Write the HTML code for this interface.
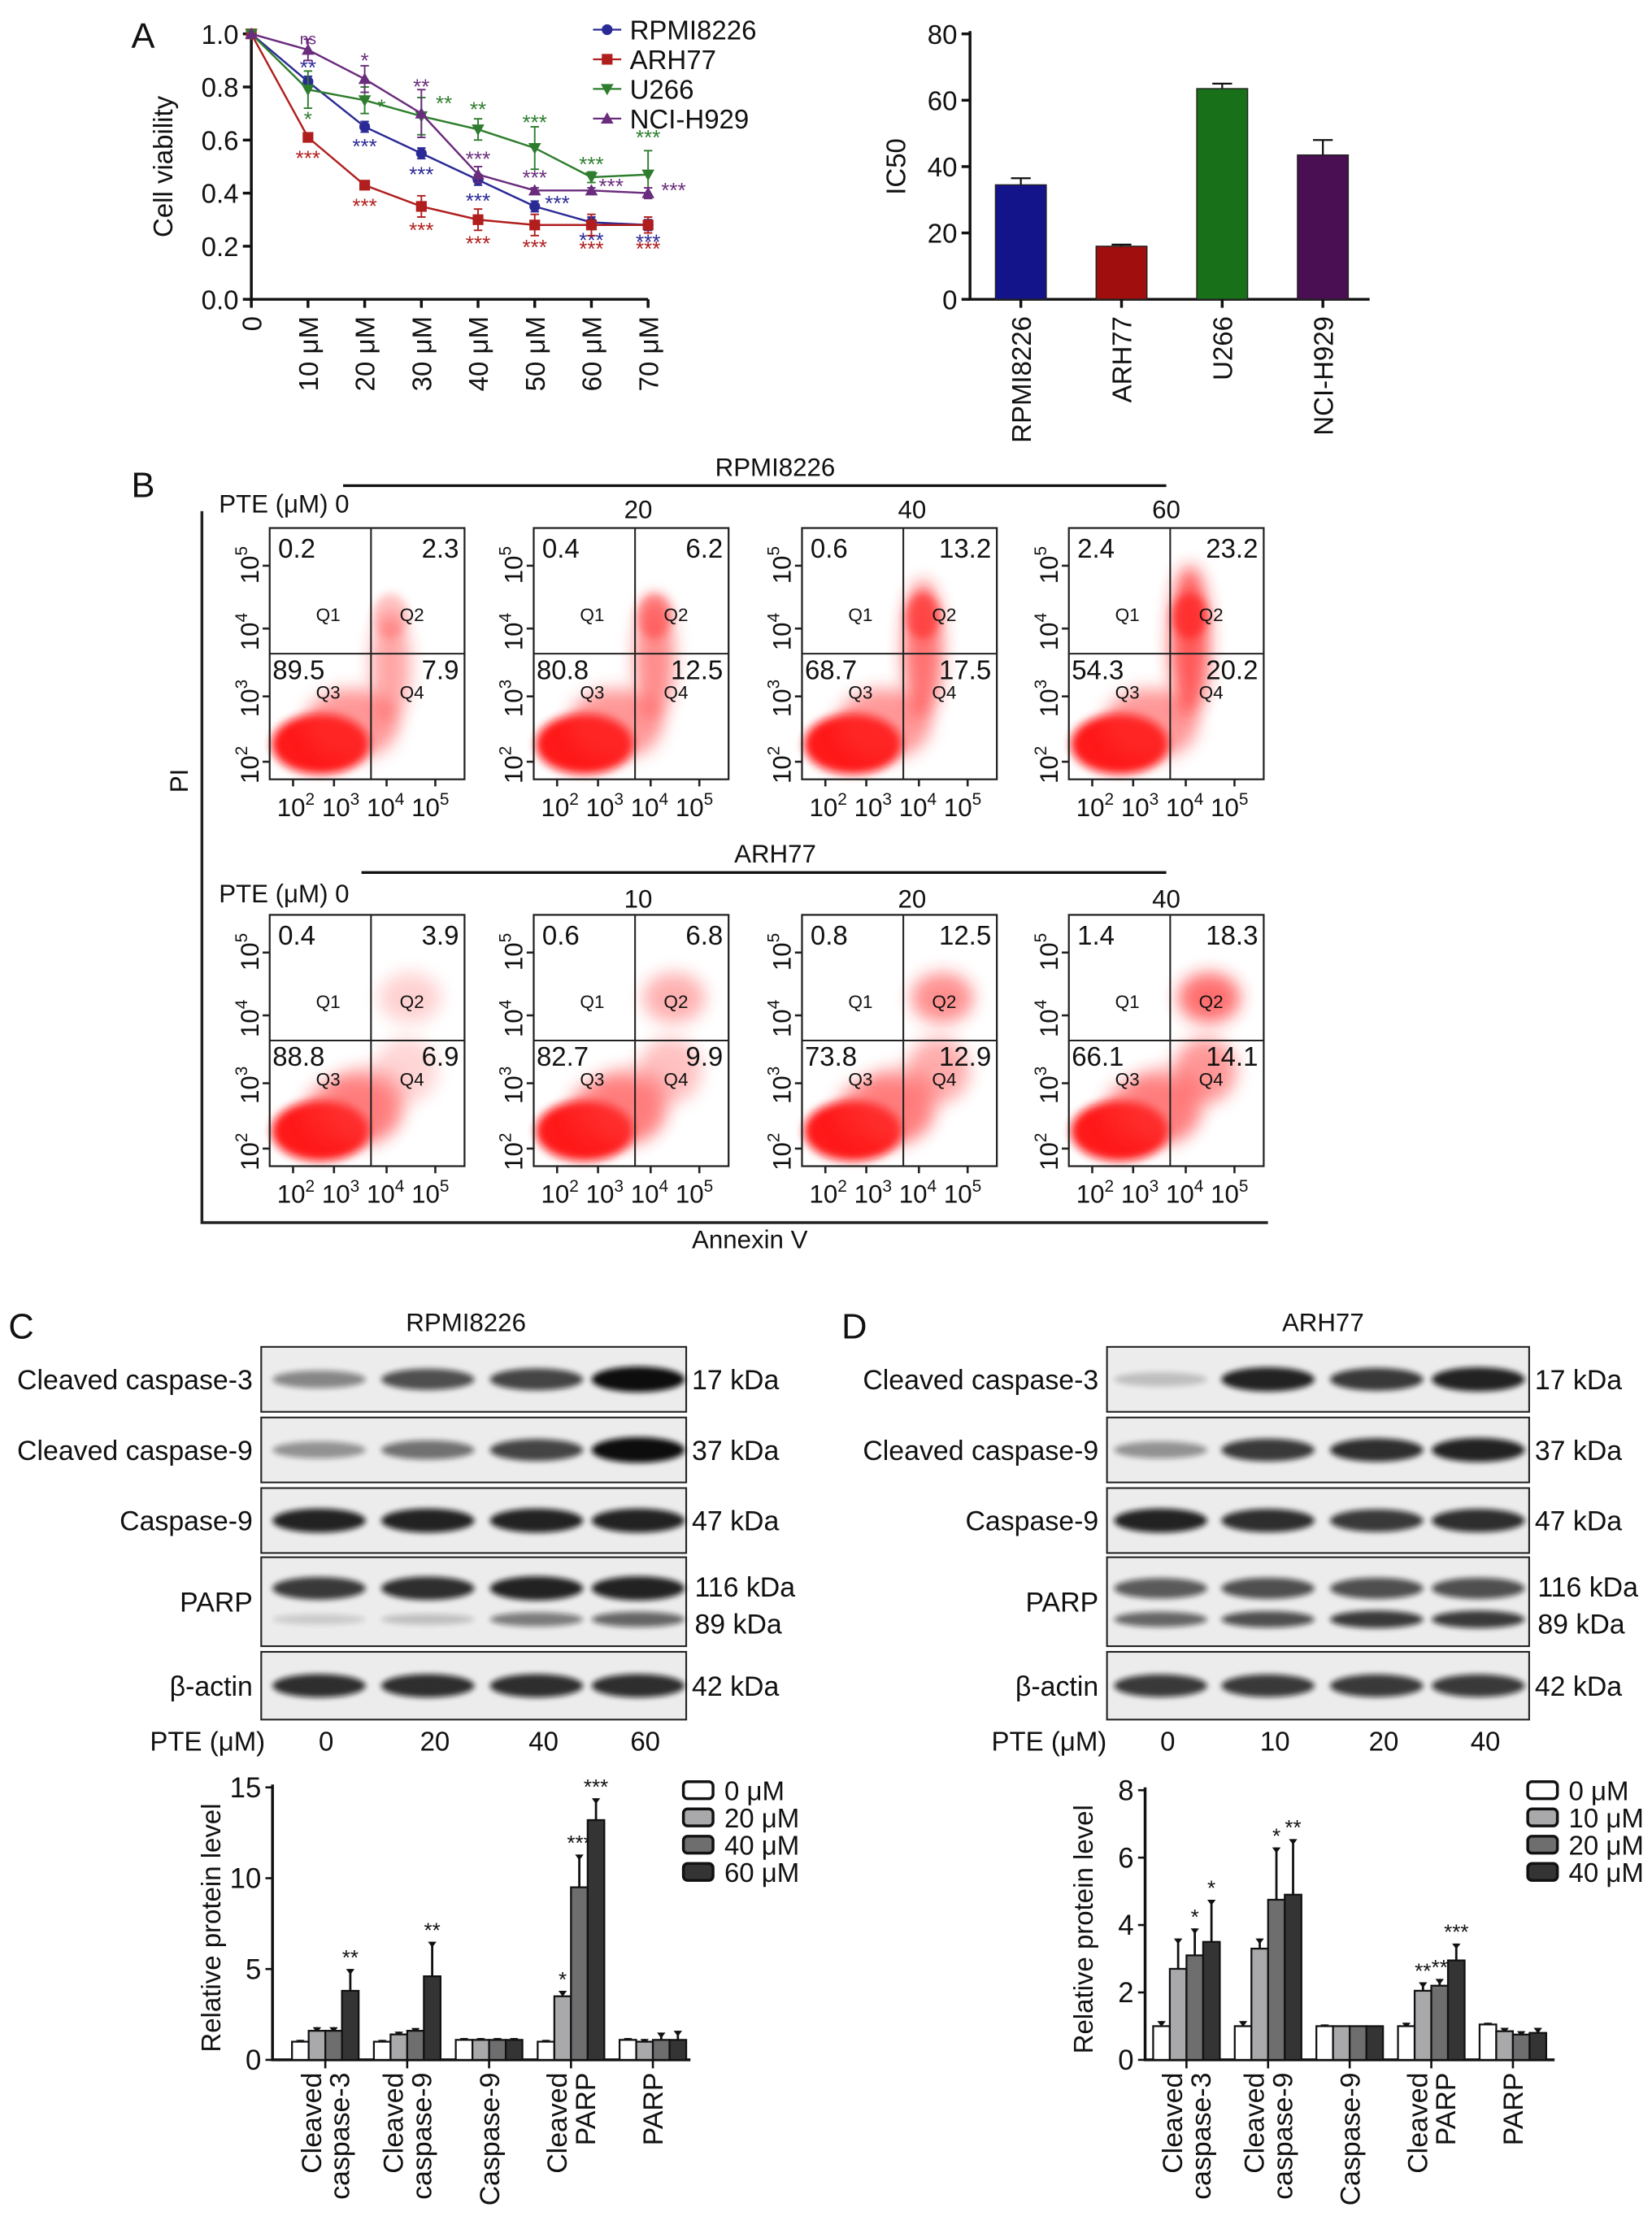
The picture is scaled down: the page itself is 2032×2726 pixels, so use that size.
<!DOCTYPE html>
<html><head><meta charset="utf-8">
<style>
html,body{margin:0;padding:0;background:#fff;}
svg{display:block;font-family:"Liberation Sans",sans-serif;}
</style></head>
<body>
<svg id="fig" width="2032" height="2726" viewBox="0 0 1170 1569.6" xmlns="http://www.w3.org/2000/svg">
<defs>
<filter id="blur3" x="-50%" y="-50%" width="200%" height="200%"><feGaussianBlur stdDeviation="3"/></filter>
<filter id="blur2" x="-50%" y="-50%" width="200%" height="200%"><feGaussianBlur stdDeviation="2"/></filter>
<filter id="blur6" x="-50%" y="-50%" width="200%" height="200%"><feGaussianBlur stdDeviation="6"/></filter>
</defs>
</svg>
<script>
// ===== Panel A line chart data =====
const doseLabels = ['0','10 μM','20 μM','30 μM','40 μM','50 μM','60 μM','70 μM'];
const seriesNames = ['RPMI8226','ARH77','U266','NCI-H929'];
const rpmiVals = [1.0,0.82,0.65,0.55,0.45,0.35,0.29,0.28];
const arhVals  = [1.0,0.61,0.43,0.35,0.30,0.28,0.28,0.28];
const u266Vals = [1.0,0.79,0.75,0.69,0.64,0.57,0.46,0.47];
const nciVals  = [1.0,0.94,0.83,0.70,0.47,0.41,0.41,0.40];
const rpmiErr = [0,0.02,0.02,0.02,0.02,0.02,0.02,0.02];
const arhErr  = [0,0.01,0.01,0.04,0.04,0.04,0.04,0.03];
const u266Err = [0,0.07,0.05,0.07,0.04,0.08,0.02,0.09];
const nciErr  = [0,0.04,0.05,0.09,0.03,0.01,0.01,0.02];
const rpmiStars = ['','**','***','***','***','***','***','***'];
const arhStars  = ['','***','***','***','***','***','***','***'];
const u266Stars = ['','*','*','**','**','***','***','***'];
const nciStars  = ['','ns','*','**','***','***','***','***'];
const yTicksA = [0.0,0.2,0.4,0.6,0.8,1.0];
// ===== IC50 =====
const icCats = ['RPMI8226','ARH77','U266','NCI-H929'];
const icVals = [34.5,16,63.5,43.5];
const icErr  = [2,0.5,1.5,4.5];
const icTicks = [0,20,40,60,80];
// ===== Flow cytometry quadrant percentages [Q1,Q2,Q3,Q4] =====
const rpmiDoses = ['0','20','40','60'];
const arhDoses = ['0','10','20','40'];
const rpmiQuad = [[0.2,2.3,89.5,7.9],[0.4,6.2,80.8,12.5],[0.6,13.2,68.7,17.5],[2.4,23.2,54.3,20.2]];
const arhQuad  = [[0.4,3.9,88.8,6.9],[0.6,6.8,82.7,9.9],[0.8,12.5,73.8,12.9],[1.4,18.3,66.1,14.1]];
// ===== Bar charts C / D =====
const protCats = [['Cleaved','caspase-3'],['Cleaved','caspase-9'],['Caspase-9'],['Cleaved','PARP'],['PARP']];
const cLegend = ['0 μM','20 μM','40 μM','60 μM'];
const dLegend = ['0 μM','10 μM','20 μM','40 μM'];
const cVals = [[1.0,1.6,1.6,3.8],[1.0,1.4,1.6,4.6],[1.1,1.1,1.1,1.1],[1.0,3.5,9.5,13.2],[1.1,1.0,1.1,1.1]];
const cErr  = [[0.1,0.2,0.2,1.2],[0.1,0.15,0.15,1.9],[0.1,0.1,0.1,0.1],[0.1,0.3,1.8,1.2],[0.1,0.15,0.4,0.5]];
const cStars= [['','','','**'],['','','','**'],['','','',''],['','*','***','***'],['','','','']];
const cTicks = [0,5,10,15];
const dVals = [[1.0,2.7,3.1,3.5],[1.0,3.3,4.75,4.9],[1.0,1.0,1.0,1.0],[1.0,2.05,2.2,2.95],[1.05,0.85,0.75,0.8]];
const dErr  = [[0.15,0.9,0.8,1.25],[0.15,0.3,1.55,1.65],[0.05,0.02,0.02,0.02],[0.1,0.25,0.2,0.5],[0.05,0.1,0.1,0.15]];
const dStars= [['','','*','*'],['','','*','**'],['','','',''],['','**','**','***'],['','','','']];
const dTicks = [0,2,4,6,8];
// ===== Western blot band intensities =====
const blotRows = ['Cleaved caspase-3','Cleaved caspase-9','Caspase-9','PARP','β-actin'];
const blotKda = ['17 kDa','37 kDa','47 kDa','116 kDa','42 kDa'];
const cBands = [[0.45,0.7,0.75,1],[0.4,0.55,0.75,1],[0.9,0.9,0.9,0.9],[0.8,0.85,0.9,0.9],[0.85,0.85,0.85,0.85]];
const cParp89 = [0.15,0.2,0.5,0.6];
const dBands = [[0.2,0.9,0.8,0.9],[0.4,0.8,0.85,0.9],[0.9,0.85,0.8,0.85],[0.65,0.7,0.7,0.7],[0.8,0.8,0.8,0.8]];
const dParp89 = [0.6,0.7,0.8,0.8];

const NS='http://www.w3.org/2000/svg';
const svg=document.getElementById('fig');
function mk(tag,attrs,parent){const e=document.createElementNS(NS,tag);for(const k in attrs)e.setAttribute(k,attrs[k]);(parent||svg).appendChild(e);return e;}
function txt(x,y,s,attrs,parent){const a=Object.assign({x:x,y:y,'font-size':18,fill:'#111'},attrs||{});const e=mk('text',a,parent);e.textContent=s;return e;}
function grp(parent){return mk('g',{},parent);}

// ---------- Panel A ----------
let el;
el=txt(93,34,'A',{'font-size':25});


const gA=grp();


const ax0=178, ax1=459, ay0=212, ay1=24;
const xA=i=>ax0+i*(ax1-ax0)/7;
const yA=v=>ay0-v*(ay0-ay1);
el=mk('path',{d:`M${ax0},${ay1-2} V${ay0} H${ax1}`,stroke:'#111','stroke-width':2,fill:'none'},gA);


yTicksA.forEach(t=>{
  mk('line',{x1:ax0-6,x2:ax0,y1:yA(t),y2:yA(t),stroke:'#111','stroke-width':2},gA);
  el=txt(ax0-9,yA(t)+7,t.toFixed(1),{'text-anchor':'end','font-size':19},gA);
  
  
});
doseLabels.forEach((d,i)=>{
  mk('line',{x1:xA(i),x2:xA(i),y1:ay0,y2:ay0+6,stroke:'#111','stroke-width':2},gA);
  el=txt(0,0,d,{'text-anchor':'end','font-size':19,transform:`translate(${xA(i)+7},${ay0+12}) rotate(-90)`},gA);
  
  
});
el=txt(0,0,'Cell viability',{'text-anchor':'middle','font-size':19,transform:'translate(122,118) rotate(-90)'},gA);


const colA=['#2a2a96','#b01e1e','#2e7d2e','#6a2c7c'];
const valsA=[rpmiVals,arhVals,u266Vals,nciVals];
const errsA=[rpmiErr,arhErr,u266Err,nciErr];
const starsA=[rpmiStars,arhStars,u266Stars,nciStars];
const starOff=[
 [[0,0],[0,-10],[0,14],[0,15],[0,15],[16,-2],[0,13],[0,12]],
 [[0,0],[0,15],[0,15],[0,17],[0,17],[0,16],[0,17],[0,17]],
 [[0,0],[0,21],[12,5],[16,-9],[0,-14],[0,-18],[0,-9],[0,-26]],
 [[0,0],[0,-9],[0,-13],[0,-19],[0,-11],[0,-9],[14,-3],[18,-2]]
];
function marker(type,x,y,c,parent){
  if(type===0) return mk('circle',{cx:x,cy:y,r:3.8,fill:c},parent);
  if(type===1) return mk('rect',{x:x-3.8,y:y-3.8,width:7.6,height:7.6,fill:c},parent);
  if(type===2) return mk('path',{d:`M${x-4.5},${y-3.5} L${x+4.5},${y-3.5} L${x},${y+4.5} Z`,fill:c},parent);
  return mk('path',{d:`M${x-4.5},${y+3.5} L${x+4.5},${y+3.5} L${x},${y-4.5} Z`,fill:c},parent);
}
valsA.forEach((vals,s)=>{
  const g=grp(gA);
  
  
  el=mk('polyline',{points:vals.map((v,i)=>xA(i)+','+yA(v)).join(' '),fill:'none',stroke:colA[s],'stroke-width':1.4},g);
  
  
  vals.forEach((v,i)=>{
    const e=errsA[s][i];
    if(e>0){
      mk('line',{x1:xA(i),x2:xA(i),y1:yA(v-e),y2:yA(v+e),stroke:colA[s],'stroke-width':1.1},g);
      mk('line',{x1:xA(i)-3,x2:xA(i)+3,y1:yA(v-e),y2:yA(v-e),stroke:colA[s],'stroke-width':1.1},g);
      mk('line',{x1:xA(i)-3,x2:xA(i)+3,y1:yA(v+e),y2:yA(v+e),stroke:colA[s],'stroke-width':1.1},g);
    }
    el=marker(s,xA(i),yA(v),colA[s],g);
    
    
    const st=starsA[s][i];
    if(st){
      const o=starOff[s][i];
      el=txt(xA(i)+o[0],yA(v)+o[1]+5,st,{'text-anchor':'middle','font-size':st==='ns'?11:15,fill:colA[s]},g);
      
      
    }
  });
});
seriesNames.forEach((n,s)=>{
  const y=21+s*21;
  const g=grp(gA);
  
  
  mk('line',{x1:420,x2:440,y1:y,y2:y,stroke:colA[s],'stroke-width':1.3},g);
  marker(s,430,y,colA[s],g);
  txt(446,y+7,n,{'font-size':19},g);
});

// ---------- IC50 ----------
const gI=grp();


const ix0=687, ix1=970;
const yI=v=>212-v*(188/80);
const xI=i=>723+i*71.3;
el=mk('path',{d:`M${ix0},22 V212 H${ix1}`,stroke:'#111','stroke-width':2,fill:'none'},gI);


icTicks.forEach(t=>{
  mk('line',{x1:ix0-6,x2:ix0,y1:yI(t),y2:yI(t),stroke:'#111','stroke-width':2},gI);
  el=txt(ix0-9,yI(t)+7,String(t),{'text-anchor':'end','font-size':19},gI);
  
  
});
el=txt(0,0,'IC50',{'text-anchor':'middle','font-size':19,transform:'translate(641,118) rotate(-90)'},gI);


const icCol=['#14148a','#a00e0e','#187018','#4a0e52'];
icVals.forEach((v,i)=>{
  const x=xI(i);
  mk('line',{x1:x,x2:x,y1:yI(v),y2:yI(v+icErr[i]),stroke:'#111','stroke-width':1.3},gI);
  mk('line',{x1:x-7,x2:x+7,y1:yI(v+icErr[i]),y2:yI(v+icErr[i]),stroke:'#111','stroke-width':1.3},gI);
  el=mk('rect',{x:x-18,y:yI(v),width:36,height:yI(0)-yI(v),fill:icCol[i],stroke:'#222','stroke-width':0.8},gI);
  
  
  mk('line',{x1:x,x2:x,y1:212,y2:218,stroke:'#111','stroke-width':2},gI);
  el=txt(0,0,icCats[i],{'text-anchor':'end','font-size':19,transform:`translate(${x+7},${224}) rotate(-90)`},gI);
  
  
});

// ---------- Panel B ----------
el=txt(93,352,'B',{'font-size':25});


const gB=grp();


mk('path',{d:'M143,362 V866 H898',stroke:'#222','stroke-width':2,fill:'none'},gB);
el=txt(0,0,'PI',{'text-anchor':'middle',transform:'translate(133,553) rotate(-90)'},gB);


el=txt(531,884,'Annexin V',{'text-anchor':'middle'},gB);


const boxX=[191,378,568,757];
function sup(parent,x,y,base,exp,rot){
  const t=mk('text',{x:0,y:0,'font-size':18,fill:'#111','text-anchor':'middle',transform:`translate(${x},${y})`+(rot?' rotate(-90)':'')},parent);
  const a=document.createElementNS(NS,'tspan');a.textContent=base;t.appendChild(a);
  const b=document.createElementNS(NS,'tspan');b.textContent=exp;b.setAttribute('font-size',12);b.setAttribute('dy',-8);t.appendChild(b);
  return t;
}
function flowRow(title,doses,quads,rowY,lineY,lineX0,titleY,doseY,isArh){
  el=txt(549,titleY,title,{'text-anchor':'middle'},gB);
  
  
  mk('line',{x1:lineX0,x2:826,y1:lineY,y2:lineY,stroke:'#111','stroke-width':2},gB);
  el=txt(155,doseY,'PTE (μM) '+doses[0],{},gB);
  
  
  const dx=[null,452,646,826];
  for(let i=1;i<4;i++){el=txt(dx[i],doseY+4,doses[i],{'text-anchor':'middle'},gB);
    
    }
  quads.forEach((q,i)=>{
    const bx=boxX[i], by=rowY, w=138, h=178;
    const g=grp(gB);
    
    
    const vx=bx+w*0.52, hy=by+h*0.5;
    const k=i/3;
    mk('ellipse',{cx:bx+w*0.26,cy:by+h*0.86,rx:w*0.25,ry:h*0.12,fill:'#ff1010',opacity:0.95,filter:'url(#blur3)'},g);
    mk('ellipse',{cx:bx+w*0.42,cy:by+h*0.78,rx:w*0.24,ry:h*0.14,fill:'#ff3030',opacity:0.5,filter:'url(#blur6)'},g);
    if(!isArh){
      mk('ellipse',{cx:bx+w*0.62,cy:by+h*(0.55-0.1*k),rx:w*0.1,ry:h*(0.22+0.08*k),fill:'#ff2020',opacity:0.4+0.35*k,filter:'url(#blur6)'},g);
      mk('ellipse',{cx:bx+w*0.62,cy:by+h*0.35,rx:w*0.09,ry:h*0.09,fill:'#ff2020',opacity:0.25+0.5*k,filter:'url(#blur3)'},g);
    } else {
      mk('ellipse',{cx:bx+w*0.72,cy:by+h*0.33,rx:w*0.16,ry:h*0.1,fill:'#ff2020',opacity:0.2+0.45*k,filter:'url(#blur6)'},g);
      mk('ellipse',{cx:bx+w*0.7,cy:by+h*0.62,rx:w*0.16,ry:h*0.13,fill:'#ff3030',opacity:0.2+0.3*k,filter:'url(#blur6)'},g);
      mk('ellipse',{cx:bx+w*0.5,cy:by+h*0.75,rx:w*0.2,ry:h*0.15,fill:'#ff4040',opacity:0.3,filter:'url(#blur6)'},g);
    }
    el=mk('rect',{x:bx,y:by,width:w,height:h,fill:'none',stroke:'#222','stroke-width':1.3},g);
    
    
    mk('line',{x1:vx,x2:vx,y1:by,y2:by+h,stroke:'#222','stroke-width':1.2},g);
    mk('line',{x1:bx,x2:bx+w,y1:hy,y2:hy,stroke:'#222','stroke-width':1.2},g);
    txt(bx+6,by+21,String(q[0]),{'font-size':19},g);
    txt(bx+w-4,by+21,String(q[1]),{'text-anchor':'end','font-size':19},g);
    txt(bx+2,hy+18,String(q[2]),{'font-size':19},g);
    txt(bx+w-4,hy+18,String(q[3]),{'text-anchor':'end','font-size':19},g);
    txt(bx+w*0.3,by+h*0.37,'Q1',{'font-size':13,'text-anchor':'middle'},g);
    txt(bx+w*0.73,by+h*0.37,'Q2',{'font-size':13,'text-anchor':'middle'},g);
    txt(bx+w*0.3,hy+h*0.18,'Q3',{'font-size':13,'text-anchor':'middle'},g);
    txt(bx+w*0.73,hy+h*0.18,'Q4',{'font-size':13,'text-anchor':'middle'},g);
    [0.07,0.33,0.6,0.85].forEach(f=>{mk('line',{x1:bx-5,x2:bx,y1:by+h*(1-f),y2:by+h*(1-f),stroke:'#222','stroke-width':1.5},g);});
    ['5','4','3','2'].forEach((e,j)=>{sup(g,bx-8,by+h*(0.08+j*0.265)+12,'10',e,true);});
    [0.12,0.33,0.6,0.85].forEach(f=>{mk('line',{x1:bx+w*f,x2:bx+w*f,y1:by+h,y2:by+h+5,stroke:'#222','stroke-width':1.5},g);});
    ['2','3','4','5'].forEach((e,j)=>{sup(g,bx+w*(0.12+j*0.23)+2,by+h+26,'10',e,false);});
  });
}
flowRow('RPMI8226',rpmiDoses,rpmiQuad,374,344,243,337,363,false);
flowRow('ARH77',arhDoses,arhQuad,648,618,256,611,639,true);

// ---------- Blots C/D ----------
function blot(letter,lx,title,titleX,bx0,bx1,lanes,bands,p89,doses,doseX){
  el=txt(lx,948,letter,{'font-size':25});
  
  
  const g=grp();
  
  
  txt(titleX,943,title,{'text-anchor':'middle'},g);
  const rows=[[954,1000],[1004,1050],[1054,1100],[1103,1166],[1170,1218]];
  rows.forEach((r,ri)=>{
    const rg=grp(g);
    
    
    mk('rect',{x:bx0,y:r[0],width:bx1-bx0,height:r[1]-r[0],fill:'#ececec',stroke:'#222','stroke-width':1.2},rg);
    const cy=ri===3?r[0]+22:(r[0]+r[1])/2;
    lanes.forEach((lc,li)=>{
      const v=bands[ri][li];
      mk('ellipse',{cx:lc,cy:cy,rx:33,ry:4+5*v,fill:'#111',opacity:v,filter:'url(#blur2)'},rg);
      if(ri===3){const u=p89[li];mk('ellipse',{cx:lc,cy:r[0]+44,rx:33,ry:3+4*u,fill:'#111',opacity:u,filter:'url(#blur2)'},rg);}
    });
    txt(bx0-6,(r[0]+r[1])/2+7,blotRows[ri],{'text-anchor':'end','font-size':19.5},rg);
    if(ri===3){txt(bx1+6,r[0]+28,'116 kDa',{'font-size':19.5},rg);txt(bx1+6,r[0]+54,'89 kDa',{'font-size':19.5},rg);}
    else txt(bx1+4,(r[0]+r[1])/2+7,blotKda[ri],{'font-size':19.5},rg);
  });
  txt(doseX,1240,'PTE (μM)',{'text-anchor':'middle','font-size':19},g);
  doses.forEach((d,i)=>{txt(lanes[i]+5,1240,d,{'text-anchor':'middle','font-size':19},g);});
}
blot('C',6,'RPMI8226',330,185,486,[226,303,380,452],cBands,cParp89,rpmiDoses,147);
blot('D',596,'ARH77',937,784,1083,[822,898,975,1047],dBands,dParp89,arhDoses,743);

// ---------- Bar charts ----------
const barFill=['#ffffff','#a9a9ab','#6e6e6e','#343434'];
function barChart(name,axX,axEnd,y0,yTop,maxV,ticks,groupStart,vals,errs,stars,legend,legX){
  const g=grp();
  
  
  const yB=v=>y0-v*(y0-yTop)/maxV;
  mk('path',{d:`M${axX},${yTop-2} V${y0} H${axEnd}`,stroke:'#111','stroke-width':2,fill:'none'},g);
  ticks.forEach(t=>{
    mk('line',{x1:axX-5,x2:axX,y1:yB(t),y2:yB(t),stroke:'#111','stroke-width':1.5},g);
    el=txt(axX-8,yB(t)+7,String(t),{'text-anchor':'end','font-size':20},g);
    
    
  });
  el=txt(0,0,'Relative protein level',{'text-anchor':'middle','font-size':19,transform:`translate(${axX-37},${(y0+yTop)/2+3}) rotate(-90)`},g);
  
  
  const bw=11.8;
  vals.forEach((gv,gi)=>{
    const gx=groupStart+gi*(name.endsWith('c')?58:57.8);
    gv.forEach((v,si)=>{
      const x=gx+si*bw;
      const e=errs[gi][si];
      mk('line',{x1:x+bw/2,x2:x+bw/2,y1:yB(v),y2:yB(v+e),stroke:'#111','stroke-width':1.6},g);
      mk('path',{d:`M${x+bw/2-3},${yB(v+e)} H${x+bw/2+3} L${x+bw/2},${yB(v+e)+4} Z`,fill:'#111'},g);
      el=mk('rect',{x:x,y:yB(v),width:bw,height:y0-yB(v),fill:barFill[si],stroke:'#111','stroke-width':1.3},g);
      
      
      if(stars[gi][si]){
        el=txt(x+bw/2,yB(v+e)-3,stars[gi][si],{'text-anchor':'middle','font-size':15},g);
        
        
      }
    });
    const cx=gx+2*bw;
    mk('line',{x1:cx,x2:cx,y1:y0,y2:y0+6,stroke:'#111','stroke-width':1.5},g);
    const lines=protCats[gi];
    lines.forEach((ln,li)=>{
      const off=lines.length===2?(li===0?-10:10):0;
      el=txt(0,0,ln,{'text-anchor':'end','font-size':19.5,transform:`translate(${cx+off+7},${y0+9}) rotate(-90)`},g);
      
      
    });
  });
  legend.forEach((l,i)=>{
    const y=1268+i*19.3;
    const lg=grp(g);
    
    
    mk('rect',{x:legX,y:y-6,width:21,height:12,rx:3,fill:barFill[i],stroke:'#111','stroke-width':2},lg);
    txt(legX+29,y+7,l,{'font-size':19},lg);
  });
}
barChart('protein-bar-chart-c',193,489,1459,1266,15,cTicks,206.8,cVals,cErr,cStars,cLegend,484);
barChart('protein-bar-chart-d',811,1101,1459,1268,8,dTicks,816.7,dVals,dErr,dStars,dLegend,1082);
</script>
</body></html>
